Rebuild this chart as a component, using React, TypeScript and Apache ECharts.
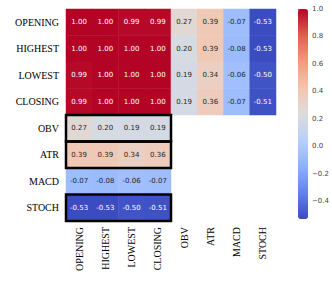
import React, { useEffect, useRef } from "react";
import * as echarts from "echarts";

const labels = ["OPENING", "HIGHEST", "LOWEST", "CLOSING", "OBV", "ATR", "MACD", "STOCH"];
const rowOPENING = [1.0, 1.0, 0.99, 0.99, 0.27, 0.39, -0.07, -0.53];
const rowHIGHEST = [1.0, 1.0, 1.0, 1.0, 0.2, 0.39, -0.08, -0.53];
const rowLOWEST = [0.99, 1.0, 1.0, 1.0, 0.19, 0.34, -0.06, -0.5];
const rowCLOSING = [0.99, 1.0, 1.0, 1.0, 0.19, 0.36, -0.07, -0.51];
const rowOBV = [0.27, 0.2, 0.19, 0.19];
const rowATR = [0.39, 0.39, 0.34, 0.36];
const rowMACD = [-0.07, -0.08, -0.06, -0.07];
const rowSTOCH = [-0.53, -0.53, -0.5, -0.51];
const rows = [rowOPENING, rowHIGHEST, rowLOWEST, rowCLOSING, rowOBV, rowATR, rowMACD, rowSTOCH];
const boxedRows = ["OBV", "ATR", "STOCH"];
const boxSpan = 4;
const vMin = -0.53;
const vMax = 1.0;
const cbTicks = [-0.4, -0.2, 0, 0.2, 0.4, 0.6, 0.8, 1.0];

const coolwarm = ["#3b4cc0", "#6282ea", "#8db0fe", "#b8d0f9", "#dddcdc", "#f5c4ad", "#f49a7b", "#de604d", "#b40426"];

export default function App() {
  const ref = useRef<HTMLDivElement>(null);
  useEffect(() => {
    if (!ref.current) return;
    const chart = echarts.init(ref.current, null, { renderer: "svg" });
    const data: any[] = [];
    rows.forEach((r, ri) => {
      r.forEach((v, ci) => {
        const white = v > 0.8 || v < -0.45;
        data.push({ value: [ci, ri, v], label: { color: white ? "#ffffff" : "#262626" } });
      });
    });
    const boxData = boxedRows.map((n) => [0, labels.indexOf(n)]);
    const serif = "'Liberation Serif', 'Times New Roman', serif";
    chart.setOption({
      animation: false,
      grid: [
        { left: 66, top: 9, width: 210, height: 212 },
        { left: 298, top: 9, width: 10, height: 210 },
      ],
      xAxis: [
        {
          type: "category",
          data: labels,
          gridIndex: 0,
          axisLine: { show: false },
          axisTick: { show: false },
          splitLine: { show: false },
          axisLabel: { rotate: 90, fontFamily: serif, fontSize: 10, color: "#000", margin: 6 },
        },
        { type: "value", gridIndex: 1, show: false, min: 0, max: 1 },
      ],
      yAxis: [
        {
          type: "category",
          data: labels,
          inverse: true,
          gridIndex: 0,
          axisLine: { show: false },
          axisTick: { show: false },
          splitLine: { show: false },
          axisLabel: { fontFamily: serif, fontSize: 10, color: "#000", margin: 7 },
        },
        {
          type: "value",
          gridIndex: 1,
          position: "right",
          min: vMin,
          max: vMax,
          axisLine: { show: false },
          splitLine: { show: false },
          axisTick: { show: true, length: 3, lineStyle: { color: "#555" }, customValues: cbTicks },
          axisLabel: {
            fontFamily: "'DejaVu Sans', sans-serif",
            fontSize: 7,
            color: "#444",
            margin: 4,
            customValues: cbTicks,
            formatter: (v: number) => v.toFixed(1).replace("-", "\u2212"),
          },
        },
      ],
      visualMap: {
        type: "continuous",
        min: vMin,
        max: vMax,
        seriesIndex: 0,
        calculable: false,
        orient: "vertical",
        left: 298,
        top: 9,
        padding: 0,
        itemWidth: 10,
        itemHeight: 210,
        text: null,
        inRange: { color: coolwarm },
      },
      series: [
        {
          type: "heatmap",
          xAxisIndex: 0,
          yAxisIndex: 0,
          data,
          label: {
            show: true,
            fontFamily: "'DejaVu Sans', sans-serif",
            fontSize: 7,
            formatter: (p: any) => p.value[2].toFixed(2),
          },
          itemStyle: { borderWidth: 0 },
        },
        {
          type: "custom",
          xAxisIndex: 0,
          yAxisIndex: 0,
          data: boxData,
          z: 10,
          renderItem: (params: any, api: any) => {
            const row = api.value(1);
            const p0 = api.coord([0, row]);
            const p1 = api.coord([boxSpan - 1, row]);
            const sz = api.size([1, 1]);
            return {
              type: "rect",
              shape: {
                x: p0[0] - sz[0] / 2,
                y: p0[1] - sz[1] / 2,
                width: p1[0] - p0[0] + sz[0],
                height: sz[1],
              },
              style: { fill: "none", stroke: "#000", lineWidth: 2.5 },
            };
          },
        },
      ],
    });
    return () => chart.dispose();
  }, []);
  return <div ref={ref} style={{ position: "absolute", left: 0, top: 0, width: 332, height: 281 }} />;
}
